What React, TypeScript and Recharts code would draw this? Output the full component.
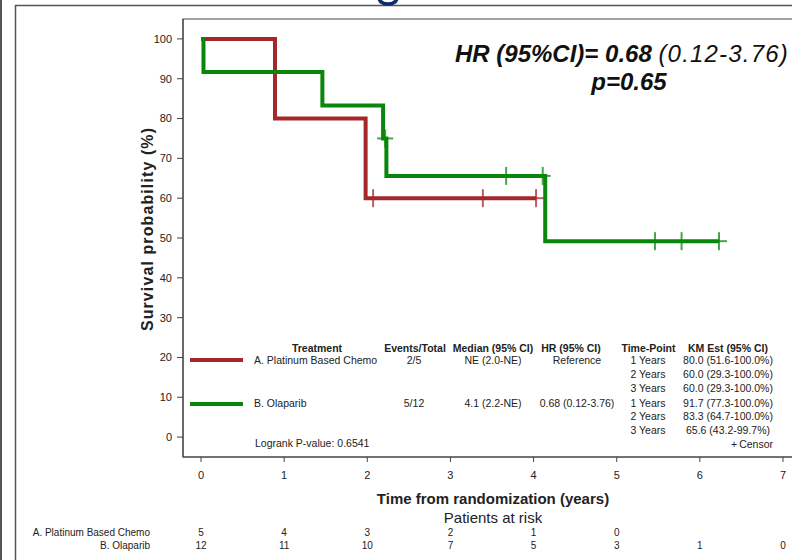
import { ComposedChart, Line, Scatter, XAxis, YAxis, ReferenceArea } from "recharts";

const FONT = '"Liberation Sans", Arial, Helvetica, sans-serif';
const RED = "#A4282A";
const GREEN = "#0A870A";
const INK = "#222";

// Kaplan-Meier steps (time in years, survival %)
const chemoSteps = [
  { t: 0, s: 100 },
  { t: 0.89, s: 80 },
  { t: 1.98, s: 60 },
  { t: 4.03, s: 60 },
];
const olaparibSteps = [
  { t: 0, s: 100 },
  { t: 0.03, s: 91.7 },
  { t: 1.46, s: 83.3 },
  { t: 2.19, s: 75 },
  { t: 2.23, s: 65.6 },
  { t: 4.14, s: 49.2 },
  { t: 6.23, s: 49.2 },
];

// censored observations
const chemoCensored = [
  { t: 2.07, s: 60 },
  { t: 3.39, s: 60 },
  { t: 4.03, s: 60 },
];
const olaparibCensored = [
  { t: 2.215, s: 75 },
  { t: 3.67, s: 65.6 },
  { t: 4.11, s: 65.6 },
  { t: 5.46, s: 49.2 },
  { t: 5.78, s: 49.2 },
  { t: 6.23, s: 49.2 },
];

const yearTicks = [0, 1, 2, 3, 4, 5, 6, 7];
const survivalTicks = [0, 10, 20, 30, 40, 50, 60, 70, 80, 90, 100];
const atRiskChemo = [5, 4, 3, 2, 1, 0];
const atRiskOlaparib = [12, 11, 10, 7, 5, 3, 1, 0];

const armNames = ["A. Platinum Based Chemo", "B. Olaparib"];
const eventsTotal = ["2/5", "5/12"];
const medians = ["NE (2.0-NE)", "4.1 (2.2-NE)"];
const hazardRatios = ["Reference", "0.68 (0.12-3.76)"];
const timePoints = ["1 Years", "2 Years", "3 Years", "1 Years", "2 Years", "3 Years"];
const kmEstimates = [
  "80.0 (51.6-100.0%)",
  "60.0 (29.3-100.0%)",
  "60.0 (29.3-100.0%)",
  "91.7 (77.3-100.0%)",
  "83.3 (64.7-100.0%)",
  "65.6 (43.2-99.7%)",
];

const X_MIN = -0.2163;
const X_MAX = 7.2163;

function censorMark(color: string) {
  return (props: any) => {
    const { cx, cy } = props;
    return (
      <g stroke={color} strokeWidth={2} strokeOpacity={0.75}>
        <line x1={cx - 8} x2={cx + 8} y1={cy} y2={cy} />
        <line x1={cx} x2={cx} y1={cy - 9} y2={cy + 9} />
      </g>
    );
  };
}

// year label plus the two patients-at-risk rows under it
function YearTick(props: any) {
  const { x, y, payload } = props;
  const i = yearTicks.indexOf(payload.value);
  const a = atRiskChemo[i];
  const b = atRiskOlaparib[i];
  return (
    <g fontFamily={FONT} fill={INK} textAnchor="middle">
      <text x={x} y={y + 15} fontSize={11}>{payload.value}</text>
      {a !== undefined && <text x={x} y={y + 71.5} fontSize={10}>{a}</text>}
      {b !== undefined && <text x={x} y={y + 85} fontSize={10}>{b}</text>}
    </g>
  );
}

function Legend() {
  const rowY = [363.5, 377.5, 391.5, 406.5, 419.5, 433.5];
  return (
    <g fontFamily={FONT} fill={INK} fontSize={10.5}>
      <g fontWeight="bold" textAnchor="middle">
        <text x={317} y={351.5}>Treatment</text>
        <text x={415} y={351.5}>Events/Total</text>
        <text x={493} y={351.5}>Median (95% CI)</text>
        <text x={571} y={351.5}>HR (95% CI)</text>
        <text x={648.5} y={351.5}>Time-Point</text>
        <text x={728} y={351.5}>KM Est (95% CI)</text>
      </g>
      <line x1={190} x2={243} y1={360} y2={360} stroke={RED} strokeWidth={4} />
      <line x1={190} x2={243} y1={404} y2={404} stroke={GREEN} strokeWidth={4} />
      {armNames.map((n, i) => (
        <g key={n}>
          <text x={254} y={rowY[i * 3]}>{n}</text>
          <text x={414} y={rowY[i * 3]} textAnchor="middle">{eventsTotal[i]}</text>
          <text x={493} y={rowY[i * 3]} textAnchor="middle">{medians[i]}</text>
          <text x={577} y={rowY[i * 3]} textAnchor="middle">{hazardRatios[i]}</text>
        </g>
      ))}
      {timePoints.map((tp, i) => (
        <g key={i}>
          <text x={648} y={rowY[i]} textAnchor="middle">{tp}</text>
          <text x={728} y={rowY[i]} textAnchor="middle">{kmEstimates[i]}</text>
        </g>
      ))}
      <text x={734} y={447.5} textAnchor="middle">+</text>
      <text x={773} y={447.5} textAnchor="end">Censor</text>
      <text x={255} y={446.5}>Logrank P-value: 0.6541</text>
    </g>
  );
}

export default function App() {
  return (
    <div
      style={{
        position: "absolute",
        left: 0,
        top: 0,
        width: 792,
        height: 560,
        overflow: "hidden",
        background: "#fff",
      }}
    >
      <ComposedChart width={801} height={560} margin={{ top: 19, right: 0, bottom: 0, left: 0 }}>
        <XAxis
          type="number"
          dataKey="t"
          domain={[X_MIN, X_MAX]}
          allowDataOverflow
          ticks={yearTicks}
          interval={0}
          height={103}
          tickSize={5}
          tickMargin={2}
          stroke="#444"
          tick={<YearTick />}
        />
        <YAxis
          type="number"
          dataKey="s"
          domain={[-5, 105]}
          allowDataOverflow
          ticks={survivalTicks}
          interval={0}
          width={183}
          tickSize={6}
          tickMargin={5}
          stroke="#444"
          tick={{ fontSize: 11, fill: INK, fontFamily: FONT }}
        />
        <ReferenceArea x1={X_MIN} x2={X_MAX} y1={-5} y2={105} fill="none" stroke="#444" strokeWidth={1.2} />
        <Line
          data={chemoSteps}
          dataKey="s"
          type="stepAfter"
          stroke={RED}
          strokeWidth={4}
          dot={false}
          activeDot={false}
          isAnimationActive={false}
        />
        <Line
          data={olaparibSteps}
          dataKey="s"
          type="stepAfter"
          stroke={GREEN}
          strokeWidth={4}
          dot={false}
          activeDot={false}
          isAnimationActive={false}
        />
        <Scatter data={chemoCensored} dataKey="s" shape={censorMark(RED)} isAnimationActive={false} />
        <Scatter data={olaparibCensored} dataKey="s" shape={censorMark(GREEN)} isAnimationActive={false} />
      </ComposedChart>

      <svg
        width={792}
        height={560}
        style={{ position: "absolute", left: 0, top: 0, pointerEvents: "none" }}
      >
        {/* slide frame and the bottom of the heading glyph above it */}
        <line x1={1} x2={1} y1={0} y2={560} stroke="#555" strokeWidth={2} />
        <line x1={15.5} x2={15.5} y1={5} y2={560} stroke="#555" strokeWidth={1.5} />
        <line x1={15} x2={792} y1={5.5} y2={5.5} stroke="#555" strokeWidth={1.5} />
        <path d="M379 -1 Q381 4 388 4 Q395 4 397 -1" fill="none" stroke="#0B2E6F" strokeWidth={3.5} />

        <text x={455} y={62} fontFamily={FONT} fontSize={24} fontStyle="italic" fill="#111">
          <tspan fontWeight="bold">HR (95%CI)= 0.68 </tspan>
          <tspan letterSpacing={1.2}>(0.12-3.76)</tspan>
        </text>
        <text x={629} y={90} fontFamily={FONT} fontSize={24} fontStyle="italic" fontWeight="bold" fill="#111" textAnchor="middle">
          p=0.65
        </text>

        <Legend />

        <text
          transform="translate(153 229) rotate(-90)"
          textAnchor="middle"
          fontFamily={FONT}
          fontWeight="bold"
          fontSize={16}
          letterSpacing={1.1}
          fill={INK}
        >
          Survival probability (%)
        </text>
        <text x={493} y={504} textAnchor="middle" fontFamily={FONT} fontWeight="bold" fontSize={15} fill={INK}>
          Time from randomization (years)
        </text>
        <text x={493} y={522.5} textAnchor="middle" fontFamily={FONT} fontSize={15} fill={INK}>
          Patients at risk
        </text>
        <g fontFamily={FONT} fontSize={10} fill={INK} textAnchor="end">
          <text x={150} y={535.5}>{armNames[0]}</text>
          <text x={150} y={549}>{armNames[1]}</text>
        </g>
      </svg>
    </div>
  );
}
